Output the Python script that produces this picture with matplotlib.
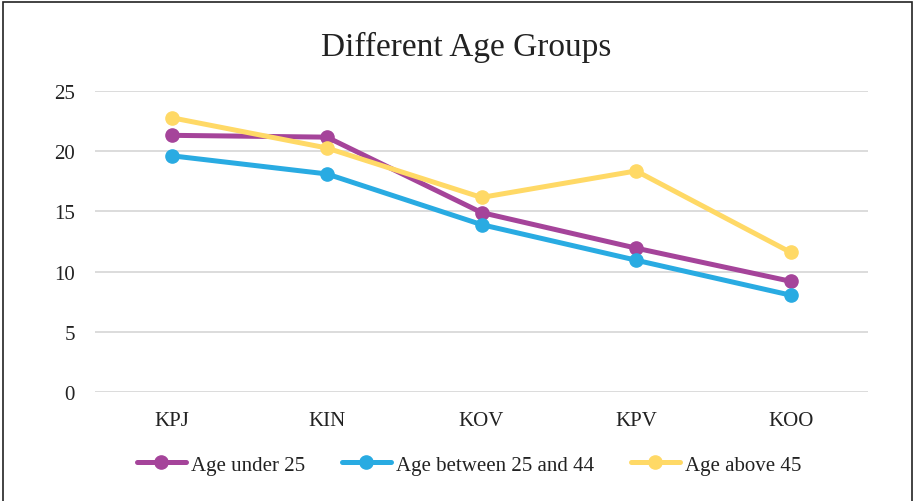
import matplotlib.pyplot as plt
from matplotlib.patches import Rectangle

# data
categories = ["KPJ", "KIN", "KOV", "KPV", "KOO"]
age_under_25 = [21.3, 21.15, 14.9, 11.95, 9.2]
age_25_to_44 = [19.6, 18.1, 13.9, 10.95, 8.05]
age_above_45 = [22.75, 20.25, 16.15, 18.35, 11.6]

series_names = ["Age under 25", "Age between 25 and 44", "Age above 45"]
colors = ["#A5449A", "#29ABE2", "#FFD966"]

plt.rcParams["font.family"] = ["Liberation Serif", "DejaVu Serif"]

fig = plt.figure(figsize=(9.16, 5.02), dpi=100)
ax = fig.add_axes([95 / 916, 1 - 393.3 / 502, (868 - 95) / 916, (393.3 - 91.7) / 502])

x = range(len(categories))
for vals, name, col in zip([age_under_25, age_25_to_44, age_above_45], series_names, colors):
    ax.plot(x, vals, color=col, linewidth=3.6, marker="o", markersize=9.5,
            label=name, clip_on=False, solid_capstyle="round")

ax.set_xlim(-0.5, len(categories) - 0.5)
ax.set_ylim(0, 25)
ax.set_yticks([0, 5, 10, 15, 20, 25])
ax.set_xticks(list(x))
ax.set_xticklabels(categories)
ax.tick_params(axis="both", length=0, labelsize=15, colors="#222222")
ax.tick_params(axis="y", pad=14.5)
ax.tick_params(axis="x", pad=13.5)
ax.grid(axis="y", color="#D9D9D9", linewidth=1.3)
ax.set_axisbelow(True)
for s in ax.spines.values():
    s.set_visible(False)

fig.text(466 / 916, 1 - 56 / 502, "Different Age Groups", ha="center", va="baseline",
         fontsize=24, color="#222222")

ax.legend(loc="center", bbox_to_anchor=(469 / 916, 1 - 466 / 502),
          bbox_transform=fig.transFigure, ncol=3, frameon=False,
          fontsize=15, handlelength=2.35, handletextpad=0.24, columnspacing=1.78,
          labelcolor="#222222", borderpad=0)

# thin frame around the whole chart
fig.patches.append(Rectangle((3 / 916, -0.05), (912 - 3) / 916, 1.05 - 3 / 502,
                             transform=fig.transFigure, fill=False,
                             edgecolor="#222222", linewidth=1.2))

fig.savefig("out.png", dpi=100, facecolor="white")
